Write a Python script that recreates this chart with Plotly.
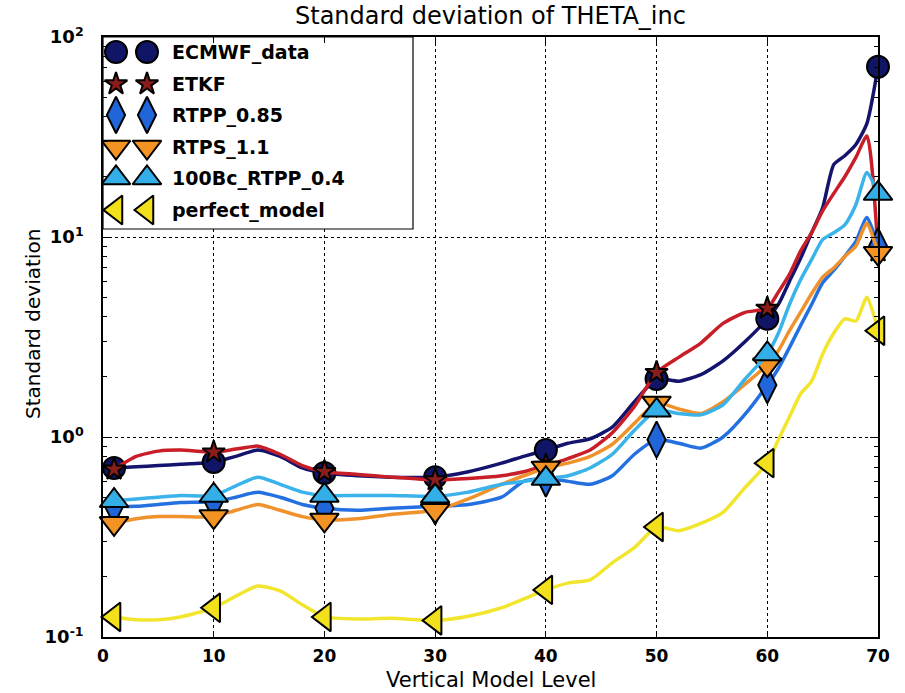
import plotly.graph_objects as go

# ---------------- data ----------------
levels = [1, 3, 5, 7, 10, 12, 14, 16, 18, 20, 23, 26, 30, 33, 36, 38, 40, 42, 44, 46,
          48, 50, 52, 54, 56, 58, 60, 61, 62, 63, 64, 65, 66, 67, 68, 69, 70]
marker_levels = [1, 10, 20, 30, 40, 50, 60, 70]

ecmwf_data = [0.70, 0.71, 0.72, 0.73, 0.75, 0.80, 0.86, 0.80, 0.70, 0.66, 0.64, 0.63, 0.63,
              0.67, 0.74, 0.80, 0.86, 0.93, 0.98, 1.12, 1.50, 1.95, 1.90, 2.05, 2.40, 3.00,
              3.90, 4.60, 6.00, 7.80, 10.5, 14.0, 23.0, 25.5, 29.0, 37.0, 71.0]
etkf = [0.69, 0.80, 0.85, 0.86, 0.84, 0.87, 0.90, 0.82, 0.72, 0.67, 0.65, 0.63, 0.61,
        0.62, 0.64, 0.67, 0.72, 0.78, 0.86, 1.05, 1.42, 2.10, 2.50, 2.95, 3.70, 4.20,
        4.40, 5.30, 6.50, 8.50, 10.5, 13.5, 16.5, 20.0, 25.0, 32.0, 8.5]
rtpp_085 = [0.45, 0.45, 0.46, 0.47, 0.475, 0.50, 0.53, 0.50, 0.46, 0.44, 0.43, 0.44, 0.45,
            0.46, 0.50, 0.60, 0.62, 0.60, 0.58, 0.64, 0.82, 0.97, 0.93, 0.88, 1.00, 1.30,
            1.82, 2.20, 2.80, 3.60, 4.60, 5.90, 6.80, 8.00, 9.50, 12.5, 9.0]
rtps_11 = [0.37, 0.39, 0.40, 0.40, 0.40, 0.43, 0.46, 0.43, 0.40, 0.385, 0.39, 0.41, 0.43,
           0.49, 0.58, 0.64, 0.70, 0.74, 0.80, 0.92, 1.17, 1.48, 1.38, 1.31, 1.50, 1.84,
           2.30, 2.70, 3.40, 4.20, 5.20, 6.30, 7.00, 8.00, 9.00, 11.7, 8.3]
bc100_rtpp_04 = [0.48, 0.49, 0.50, 0.51, 0.51, 0.57, 0.63, 0.58, 0.53, 0.51, 0.51, 0.51, 0.505,
                 0.53, 0.58, 0.60, 0.62, 0.64, 0.70, 0.82, 1.08, 1.36, 1.31, 1.29, 1.45, 1.95,
                 2.60, 3.30, 4.60, 6.10, 7.70, 9.70, 10.5, 11.5, 14.5, 21.0, 16.5]
perfect_model = [0.126, 0.122, 0.122, 0.126, 0.14, 0.16, 0.18, 0.17, 0.145, 0.126, 0.123, 0.124, 0.121,
                 0.127, 0.14, 0.155, 0.172, 0.186, 0.193, 0.235, 0.28, 0.355, 0.34, 0.37, 0.42, 0.56,
                 0.74, 0.97, 1.26, 1.64, 1.90, 2.60, 3.30, 3.90, 3.80, 5.00, 3.40]

series_names = ["ECMWF_data", "ETKF", "RTPP_0.85", "RTPS_1.1", "100Bc_RTPP_0.4", "perfect_model"]
series_values = [ecmwf_data, etkf, rtpp_085, rtps_11, bc100_rtpp_04, perfect_model]
line_colors = ["#14146e", "#c81e28", "#2470e0", "#f0922c", "#3ab2ea", "#f2e52e"]
marker_fills = ["#101566", "#8a1c1c", "#2166d9", "#f39323", "#33aee6", "#f2e01c"]
marker_symbols = ["circle", "star", "diamond-tall", "triangle-down", "triangle-up", "triangle-left"]
marker_sizes = [22, 17, 26, 25, 25, 25]

y_tickvals = [0.1, 1, 10, 100]
y_ticktext = ["10<sup>-1</sup>", "10<sup>0</sup>", "10<sup>1</sup>", "10<sup>2</sup>"]
x_tickvals = [0, 10, 20, 30, 40, 50, 60, 70]

FONT = "DejaVu Sans"
fig = go.Figure()

for name, vals, lc, mf, sym, ms in zip(series_names, series_values, line_colors,
                                       marker_fills, marker_symbols, marker_sizes):
    fig.add_trace(go.Scatter(x=levels, y=vals, mode="lines",
                             line=dict(color=lc, width=3.5, shape="spline", smoothing=0.6),
                             showlegend=False, hoverinfo="skip"))
    mx = [l for l in marker_levels]
    my = [vals[levels.index(l)] for l in marker_levels]
    fig.add_trace(go.Scatter(x=mx, y=my, mode="markers", name=name,
                             marker=dict(symbol=sym, size=ms, color=mf,
                                         line=dict(color="black", width=2)),
                             showlegend=False, cliponaxis=False))

# ---------- custom legend (two markers per entry) on an overlay pixel axis ----------
box_x = [103, 413, 413, 103, 103]
box_y = [37, 37, 229, 229, 37]
fig.add_trace(go.Scatter(x=box_x, y=box_y, xaxis="x2", yaxis="y2", mode="lines",
                         fill="toself", fillcolor="white",
                         line=dict(color="black", width=1.2),
                         showlegend=False, hoverinfo="skip"))
row_y = [52, 84, 115, 147, 178, 210]
for i, (name, mf, sym, ms) in enumerate(zip(series_names, marker_fills, marker_symbols, marker_sizes)):
    fig.add_trace(go.Scatter(x=[116, 147], y=[row_y[i], row_y[i]], xaxis="x2", yaxis="y2",
                             mode="markers",
                             marker=dict(symbol=sym, size=ms, color=mf,
                                         line=dict(color="black", width=2)),
                             showlegend=False, hoverinfo="skip"))
    fig.add_annotation(x=170, y=row_y[i], xref="x2", yref="y2", text=name,
                       showarrow=False, xanchor="left", yanchor="middle",
                       font=dict(family=FONT, size=19, color="black", weight="bold"))

minor_vals = [m * 10 ** e for e in (-1, 0, 1) for m in range(2, 10)]

fig.update_layout(
    width=905, height=693,
    margin=dict(l=103, r=27, t=37, b=56),
    paper_bgcolor="white", plot_bgcolor="white",
    showlegend=False,
    xaxis=dict(range=[0, 70], tickvals=x_tickvals, ticks="inside", ticklen=6,
               tickcolor="black", mirror="allticks", showline=True, linecolor="black",
               linewidth=1.5, showgrid=True, gridcolor="black", gridwidth=1,
               griddash="3px,3px", zeroline=False,
               tickfont=dict(family=FONT, size=17, color="black", weight="bold"),
               ticklabelstandoff=3),
    yaxis=dict(type="log", range=[-1, 2], tickvals=y_tickvals, ticktext=y_ticktext,
               ticks="inside", ticklen=8, tickcolor="black", mirror="allticks",
               showline=True, linecolor="black", linewidth=1.5,
               showgrid=True, gridcolor="black", gridwidth=1, griddash="3px,3px",
               zeroline=False,
               minor=dict(tickvals=minor_vals, ticks="inside", ticklen=4,
                          tickcolor="black", showgrid=False),
               tickfont=dict(family=FONT, size=18, color="black", weight="bold"),
               ticklabelstandoff=14),
    xaxis2=dict(overlaying="x", anchor="y2", range=[103, 878], visible=False),
    yaxis2=dict(overlaying="y", anchor="x2", range=[637, 37], visible=False),
)

fig.add_annotation(x=0.5, y=1 + 21 / 600, xref="paper", yref="paper",
                   text="Standard deviation of THETA_inc", showarrow=False,
                   xanchor="center", yanchor="middle",
                   font=dict(family=FONT, size=24, color="black"))
fig.add_annotation(x=0.5, y=-(680 - 637) / 600, xref="paper", yref="paper",
                   text="Vertical Model Level", showarrow=False,
                   xanchor="center", yanchor="middle",
                   font=dict(family=FONT, size=21, color="black"))
fig.add_annotation(x=-(103 - 33) / 775, y=0.5 - (324 - 337) / 600, xref="paper", yref="paper",
                   text="Standard deviation", showarrow=False, textangle=-90,
                   xanchor="center", yanchor="middle",
                   font=dict(family=FONT, size=20, color="black"))

fig.write_html("out.html")
